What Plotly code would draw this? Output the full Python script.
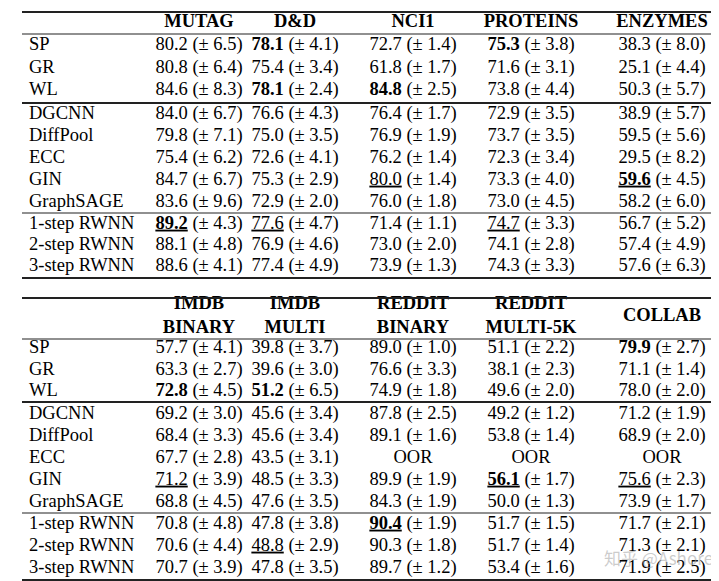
import plotly.graph_objects as go

methods = ["SP", "GR", "WL", "DGCNN", "DiffPool", "ECC", "GIN", "GraphSAGE",
           "1-step RWNN", "2-step RWNN", "3-step RWNN"]

datasets_1 = ["MUTAG", "D&D", "NCI1", "PROTEINS", "ENZYMES"]
mean_1 = [
    [80.2, 78.1, 72.7, 75.3, 38.3],
    [80.8, 75.4, 61.8, 71.6, 25.1],
    [84.6, 78.1, 84.8, 73.8, 50.3],
    [84.0, 76.6, 76.4, 72.9, 38.9],
    [79.8, 75.0, 76.9, 73.7, 59.5],
    [75.4, 72.6, 76.2, 72.3, 29.5],
    [84.7, 75.3, 80.0, 73.3, 59.6],
    [83.6, 72.9, 76.0, 73.0, 58.2],
    [89.2, 77.6, 71.4, 74.7, 56.7],
    [88.1, 76.9, 73.0, 74.1, 57.4],
    [88.6, 77.4, 73.9, 74.3, 57.6],
]
std_1 = [
    [6.5, 4.1, 1.4, 3.8, 8.0],
    [6.4, 3.4, 1.7, 3.1, 4.4],
    [8.3, 2.4, 2.5, 4.4, 5.7],
    [6.7, 4.3, 1.7, 3.5, 5.7],
    [7.1, 3.5, 1.9, 3.5, 5.6],
    [6.2, 4.1, 1.4, 3.4, 8.2],
    [6.7, 2.9, 1.4, 4.0, 4.5],
    [9.6, 2.0, 1.8, 4.5, 6.0],
    [4.3, 4.7, 1.1, 3.3, 5.2],
    [4.8, 4.6, 2.0, 2.8, 4.9],
    [4.1, 4.9, 1.3, 3.3, 6.3],
]
bold_1 = [(0, 1), (0, 3), (2, 1), (2, 2), (6, 4), (8, 0)]
under_1 = [(6, 2), (6, 4), (8, 0), (8, 1), (8, 3)]

datasets_2 = ["IMDB<br>BINARY", "IMDB<br>MULTI", "REDDIT<br>BINARY", "REDDIT<br>MULTI-5K", "COLLAB"]
mean_2 = [
    [57.7, 39.8, 89.0, 51.1, 79.9],
    [63.3, 39.6, 76.6, 38.1, 71.1],
    [72.8, 51.2, 74.9, 49.6, 78.0],
    [69.2, 45.6, 87.8, 49.2, 71.2],
    [68.4, 45.6, 89.1, 53.8, 68.9],
    [67.7, 43.5, None, None, None],
    [71.2, 48.5, 89.9, 56.1, 75.6],
    [68.8, 47.6, 84.3, 50.0, 73.9],
    [70.8, 47.8, 90.4, 51.7, 71.7],
    [70.6, 48.8, 90.3, 51.7, 71.3],
    [70.7, 47.8, 89.7, 53.4, 71.9],
]
std_2 = [
    [4.1, 3.7, 1.0, 2.2, 2.7],
    [2.7, 3.0, 3.3, 2.3, 1.4],
    [4.5, 6.5, 1.8, 2.0, 2.0],
    [3.0, 3.4, 2.5, 1.2, 1.9],
    [3.3, 3.4, 1.6, 1.4, 2.0],
    [2.8, 3.1, None, None, None],
    [3.9, 3.3, 1.9, 1.7, 2.3],
    [4.5, 3.5, 1.9, 1.3, 1.7],
    [4.8, 3.8, 1.9, 1.5, 2.1],
    [4.4, 2.9, 1.8, 1.4, 2.1],
    [3.9, 3.5, 1.2, 1.6, 2.5],
]
bold_2 = [(0, 4), (2, 0), (2, 1), (6, 3), (8, 2)]
under_2 = [(6, 0), (6, 3), (6, 4), (8, 2), (9, 1)]

FONT = "Liberation Serif"
FS = 18.5
col_x = [191, 287, 405, 523, 654]
label_x = 21
x_left, x_right = 14, 706

rows_1 = [37, 60, 82, 106, 128, 150, 172, 194, 216, 237, 258]
rows_2 = [340, 362, 383, 406, 428, 450, 472, 494, 516, 538, 560]


def cell(m, s, r, c, bold, under):
    if m is None:
        return "OOR"
    t = f"{m:.1f}"
    if (r, c) in bold:
        t = f"<b>{t}</b>"
    if (r, c) in under:
        t = f"<u>{t}</u>"
    return f"{t} (± {s:.1f})"


fig = go.Figure()


def add_table(datasets, means, stds, bold, under, rows, head_y):
    fig.add_trace(go.Scatter(
        x=[label_x] * len(methods), y=rows, mode="text", text=methods,
        textposition="middle right", textfont=dict(family=FONT, size=FS, color="black"),
        hoverinfo="skip", showlegend=False))
    xs, ys, ts = [], [], []
    for r, y in enumerate(rows):
        for c, x in enumerate(col_x):
            xs.append(x); ys.append(y)
            ts.append(cell(means[r][c], stds[r][c], r, c, bold, under))
    fig.add_trace(go.Scatter(
        x=xs, y=ys, mode="text", text=ts, textposition="middle center",
        textfont=dict(family=FONT, size=FS, color="black"),
        hoverinfo="skip", showlegend=False))
    fig.add_trace(go.Scatter(
        x=col_x, y=[head_y] * len(col_x), mode="text",
        text=[f"<b>{d}</b>" for d in datasets], textposition="middle center",
        textfont=dict(family=FONT, size=FS, color="black"),
        hoverinfo="skip", showlegend=False))


add_table(datasets_1, mean_1, std_1, bold_1, under_1, rows_1, 14)
add_table(datasets_2, mean_2, std_2, bold_2, under_2, rows_2, 308)

for y, w in [(4, 2), (26, 1.2), (95, 2.2), (205, 1.2), (270, 2.2),
             (290, 2.2), (331, 1.2), (394, 2.2), (505, 1.2), (572, 2.2)]:
    fig.add_shape(type="line", x0=x_left, x1=x_right, y0=y, y1=y,
                  line=dict(color="#222", width=w))

fig.add_annotation(x=650, y=549, text="知乎 @Ashore", showarrow=False,
                   font=dict(family="Noto Sans CJK SC", size=17, color="rgba(170,170,170,0.6)"))

fig.update_xaxes(range=[0, 719], visible=False)
fig.update_yaxes(range=[581, 0], visible=False)
fig.update_layout(width=719, height=581, margin=dict(l=0, r=0, t=0, b=0),
                  plot_bgcolor="white", paper_bgcolor="white")
fig.write_html("out.html")
